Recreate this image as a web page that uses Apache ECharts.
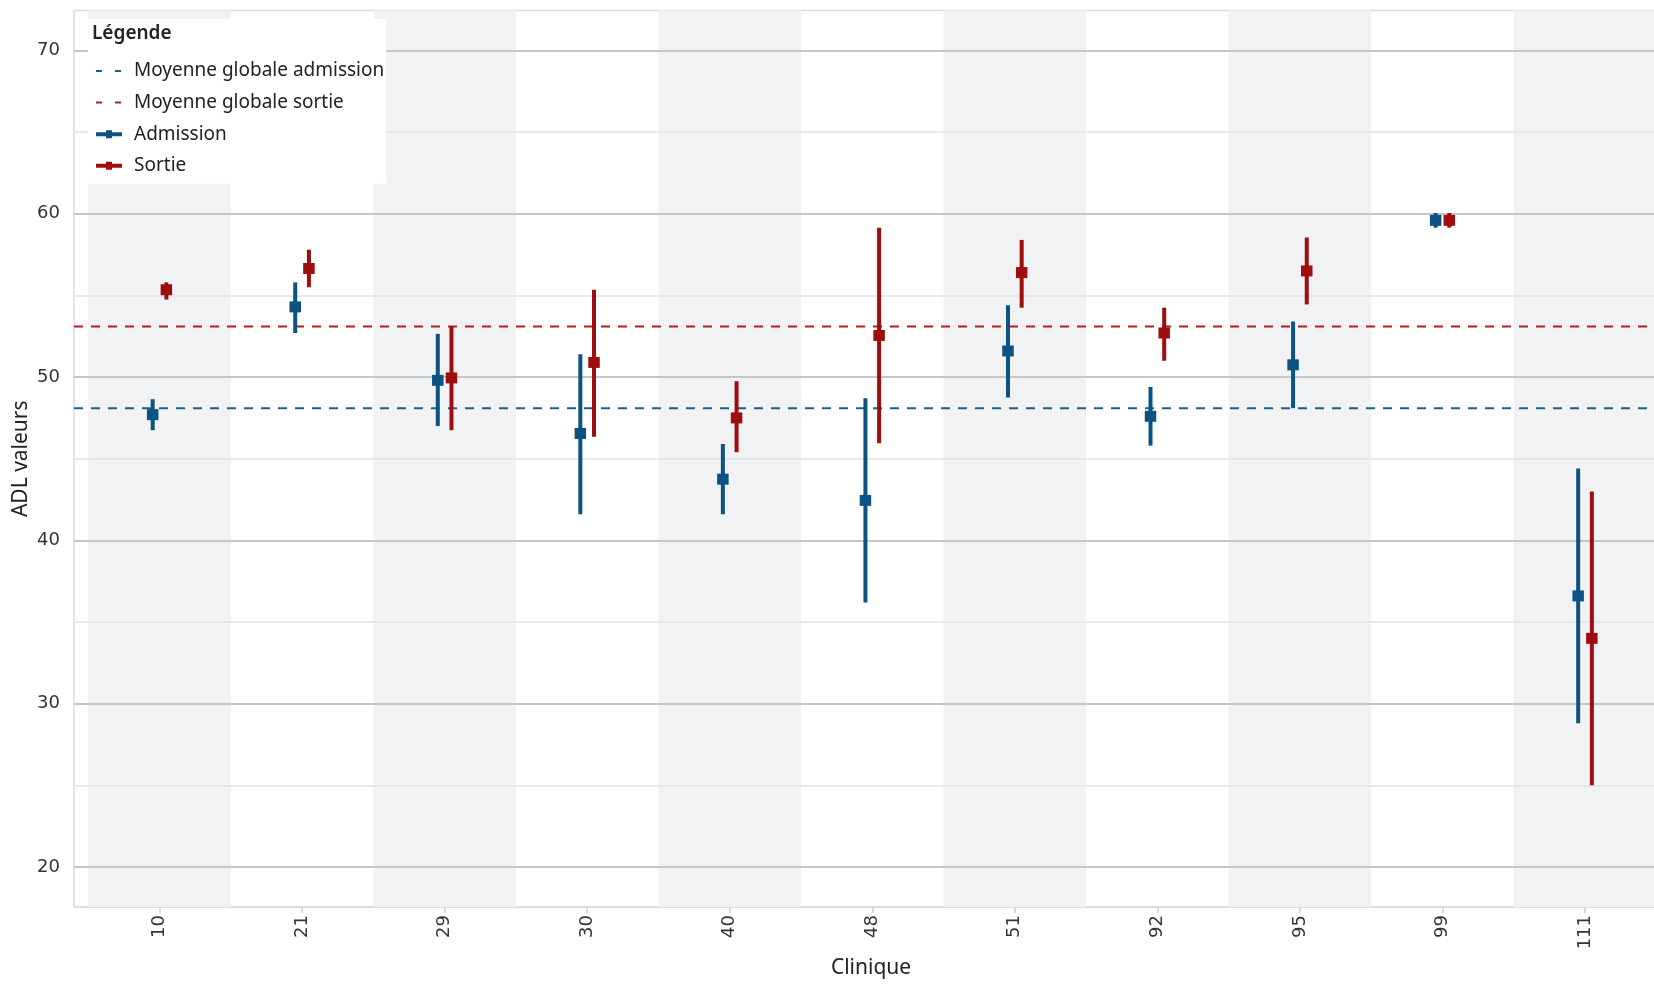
<!DOCTYPE html>
<html>
<head>
<meta charset="utf-8">
<script src="https://cdn.jsdelivr.net/npm/echarts@6/dist/echarts.min.js"></script>
<style>html,body{margin:0;padding:0;background:#fff;}#c{width:1654px;height:985px;}</style>
</head>
<body>
<div id="c"></div>
<script>
// ---- data ----
const clinics = ['10','21','29','30','40','48','51','92','95','99','111'];
const admMid  = [47.7, 54.3, 49.8, 46.55, 43.75, 42.45, 51.6, 47.6, 50.75, 59.6, 36.6];
const admLow  = [46.75, 52.7, 47.0, 41.6, 41.6, 36.2, 48.75, 45.8, 48.1, 59.15, 28.8];
const admHigh = [48.65, 55.8, 52.65, 51.4, 45.9, 48.7, 54.4, 49.4, 53.4, 60.05, 44.4];
const sorMid  = [55.35, 56.65, 49.95, 50.9, 47.5, 52.55, 56.4, 52.7, 56.5, 59.6, 34.0];
const sorLow  = [54.75, 55.5, 46.75, 46.35, 45.4, 45.95, 54.25, 51.0, 54.45, 59.15, 25.0];
const sorHigh = [55.8, 57.8, 53.1, 55.35, 49.75, 59.15, 58.4, 54.25, 58.55, 60.05, 43.0];
const meanAdmission = 48.1;
const meanSortie = 53.1;
const yTicks = [20, 30, 40, 50, 60, 70];
const yMinorTicks = [25, 35, 45, 55, 65];

// ---- chart ----
const BLUE = '#0c5383', RED = '#9e0e0e';
const xMin = -0.6, xMax = 10.484, yMin = 17.55, yMax = 72.45;
const idx = clinics.map((c, i) => i);

function errSeries(name, color, off, lows, mids, highs) {
  return {
    name, type: 'custom', z: 5,
    itemStyle: { color },
    data: idx.map(i => [i, lows[i], mids[i], highs[i]]),
    renderItem: (params, api) => {
      const x = api.value(0) + off;
      const lo = api.coord([x, api.value(1)]);
      const mi = api.coord([x, api.value(2)]);
      const hi = api.coord([x, api.value(3)]);
      return { type: 'group', children: [
        { type: 'line', shape: { x1: lo[0], y1: lo[1], x2: hi[0], y2: hi[1] }, style: { stroke: color, lineWidth: 4 } },
        { type: 'rect', shape: { x: mi[0] - 5.75, y: mi[1] - 5.5, width: 11.5, height: 11 }, style: { fill: color } }
      ]};
    }
  };
}

const bands = idx.filter(i => i % 2 === 0).map(i => [{ xAxis: i - 0.5 }, { xAxis: i + 0.5 }]);

const option = {
  animation: false,
  grid: { left: 74, top: 10.5, bottom: 78, right: 0, outerBoundsMode: 'none', containLabel: false,
    show: true, borderColor: '#dcdcdc', borderWidth: 1.5, backgroundColor: '#fff' },
  xAxis: {
    type: 'value', min: xMin, max: xMax,
    name: 'Clinique', nameLocation: 'middle', nameGap: 50,
    nameTextStyle: { fontFamily: 'Noto Sans', fontSize: 21, color: '#222', padding: [0, 0, 0, 14] },
    axisLine: { show: true, lineStyle: { color: '#dcdcdc', width: 1.5 } },
    axisTick: { show: true, customValues: idx, length: 6, lineStyle: { color: '#cfcfcf', width: 1.5 } },
    axisLabel: { customValues: idx, rotate: 90, margin: 8, fontFamily: 'DejaVu Sans', fontSize: 18, color: '#333',
      formatter: v => clinics[Math.round(v)] },
    splitLine: { show: false }
  },
  yAxis: {
    type: 'value', min: yMin, max: yMax,
    name: 'ADL valeurs', nameLocation: 'middle', nameGap: 42, nameMoveOverlap: false,
    nameTextStyle: { fontFamily: 'Noto Sans', fontSize: 21, color: '#222' },
    axisLine: { show: false },
    axisTick: { show: true, customValues: yTicks, length: 8, lineStyle: { color: '#999', width: 1.5 } },
    axisLabel: { customValues: yTicks, margin: 14, fontFamily: 'DejaVu Sans', fontSize: 18, color: '#333' },
    splitLine: { show: false }
  },
  legend: {
    left: 88, top: 19, orient: 'vertical', z: 20,
    backgroundColor: '#fff',
    padding: [42, 2, 8, 7],
    itemWidth: 26, itemHeight: 8, itemGap: 11.6,
    textStyle: { fontFamily: 'Noto Sans', fontSize: 19, color: '#222', lineHeight: 20, padding: [0, 0, 0, 7] },
    data: [
      { name: 'Moyenne globale admission', itemStyle: { color: 'rgba(0,0,0,0)', borderWidth: 0 }, lineStyle: { type: [6, 13] } },
      { name: 'Moyenne globale sortie', itemStyle: { color: 'rgba(0,0,0,0)', borderWidth: 0 }, lineStyle: { type: [6, 13] } },
      { name: 'Admission', icon: 'path://M0,2H26V6H0Z M10,0H16V8H10Z' },
      { name: 'Sortie', icon: 'path://M0,2H26V6H0Z M10,0H16V8H10Z' }
    ]
  },
  graphic: [{ type: 'text', left: 92, top: 24, z: 100,
    style: { text: 'Légende', font: '600 19px "Noto Sans"', fill: '#222' } }],
  series: [
    { name: 'bands', type: 'line', data: [], z: 1, silent: true,
      markArea: { silent: true, z: 1, itemStyle: { color: '#f1f2f4' }, data: bands },
      markLine: { silent: true, z: 2, symbol: 'none', label: { show: false },
        data: yMinorTicks.map(v => ({ yAxis: v, lineStyle: { color: '#e2e2e2', width: 1.5, type: 'solid' } }))
          .concat(yTicks.map(v => ({ yAxis: v, lineStyle: { color: '#c6c6c6', width: 1.8, type: 'solid' } }))) } },
    { name: 'Moyenne globale admission', type: 'line', z: 3, symbol: 'none', silent: true,
      data: [[xMin, meanAdmission], [xMax, meanAdmission]],
      itemStyle: { color: '#1d5f8c' },
      lineStyle: { color: '#1d5f8c', width: 2, type: [9, 8] } },
    { name: 'Moyenne globale sortie', type: 'line', z: 3, symbol: 'none', silent: true,
      data: [[xMin, meanSortie], [xMax, meanSortie]],
      itemStyle: { color: '#b01e1e' },
      lineStyle: { color: '#b01e1e', width: 2, type: [9, 8] } },
    errSeries('Admission', BLUE, -0.048, admLow, admMid, admHigh),
    errSeries('Sortie', RED, 0.048, sorLow, sorMid, sorHigh)
  ]
};
const chart = echarts.init(document.getElementById('c'), null, { renderer: 'canvas' });
chart.setOption(option);
</script>
</body>
</html>
